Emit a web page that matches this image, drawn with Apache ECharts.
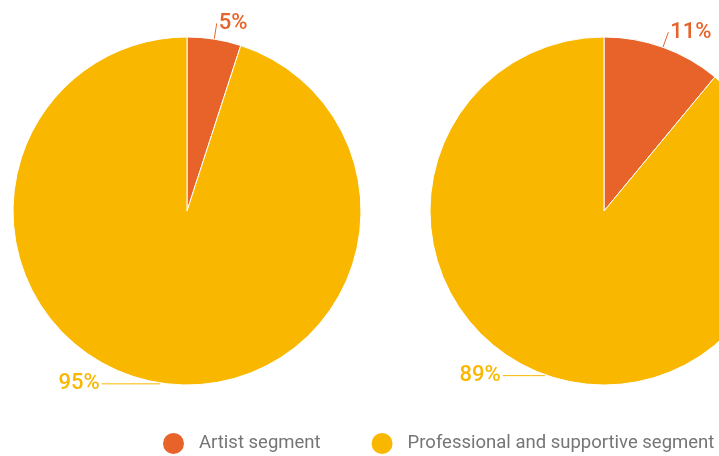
<!DOCTYPE html>
<html><head><meta charset="utf-8">
<script src="https://cdn.jsdelivr.net/npm/echarts@6/dist/echarts.min.js"></script>
<style>html,body{margin:0;padding:0;background:#fff}#c{width:719px;height:456px}</style>
</head><body><div id="c"></div>
<script>
const categories = ['Artist segment', 'Professional and supportive segment'];
const leftValues = [5, 95];
const rightValues = [11, 89];
const colors = ['#E8632A', '#F9B700'];

const chart = echarts.init(document.getElementById('c'));
// label line lengths per slice [length, length2]
function pieSeries(vals, cx, lines) {
  return {
    type: 'pie',
    center: [cx, 211],
    radius: 174,
    startAngle: 90,
    avoidLabelOverlap: false,
    itemStyle: { borderColor: '#fff', borderWidth: 1 },
    label: {
      formatter: '{d}%',
      fontSize: 22,
      fontFamily: 'Roboto',
      fontWeight: 500,
      distanceToLabelLine: 2,
      overflow: 'none'
    },
    labelLine: { lineStyle: { width: 1 } },
    data: categories.map((n, i) => ({
      name: n, value: vals[i],
      label: { color: colors[i] },
      labelLine: { length: lines[i][0], length2: lines[i][1] }
    }))
  };
}
chart.setOption({
  animation: false,
  color: colors,
  legend: {
    top: 431,
    left: 161,
    width: 700,
    padding: 0,
    itemGap: 49,
    icon: 'circle',
    itemWidth: 23,
    itemHeight: 23,
    textStyle: { fontSize: 18.5, color: '#757575', fontFamily: 'Roboto', padding: [0, 0, 0, 9] },
    data: categories
  },
  series: [
    pieSeries(leftValues, 187, [[16, 0], [1, 58]]),
    pieSeries(rightValues, 604, [[16, 0], [1, 42]])
  ]
});
</script></body></html>
